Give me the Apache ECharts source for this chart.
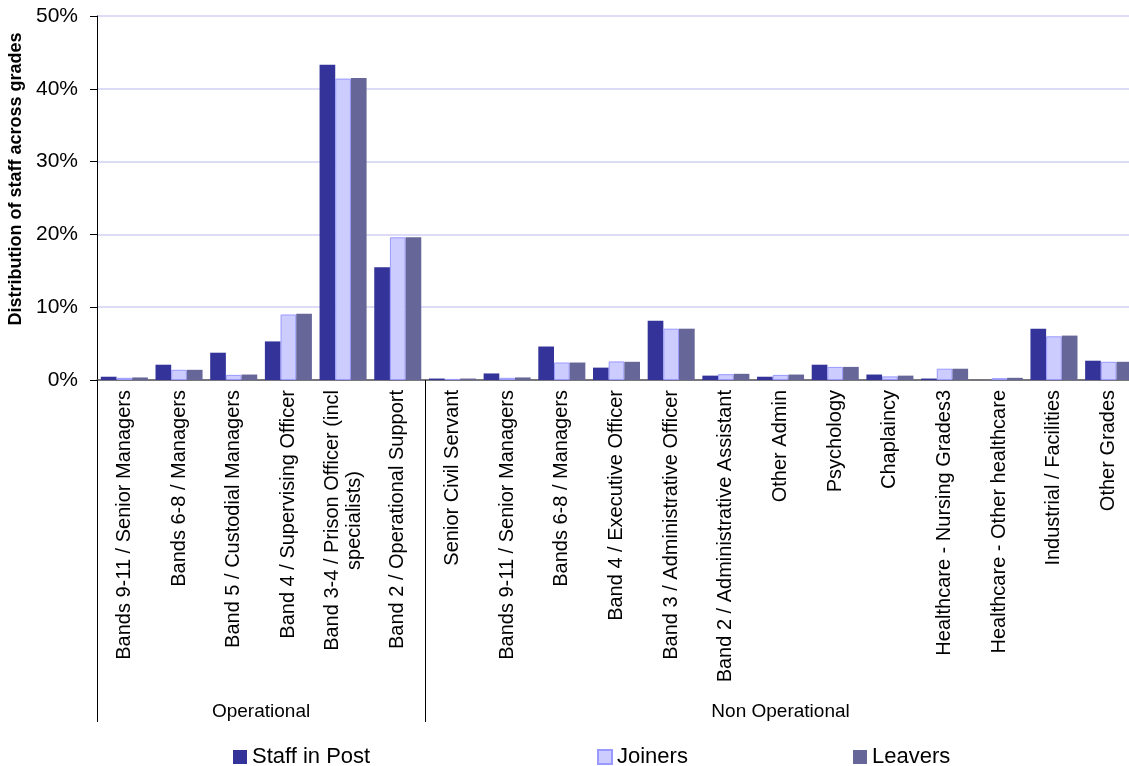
<!DOCTYPE html>
<html>
<head>
<meta charset="utf-8">
<script src="https://cdn.jsdelivr.net/npm/echarts@6/dist/echarts.min.js"></script>
<style>
  html, body { margin: 0; padding: 0; background: #fff; }
  #chart { width: 1129px; height: 766px; }
</style>
</head>
<body>
<div id="chart"></div>
<script>
// Grade categories, in axis order
const categories = [
  'Bands 9-11 / Senior Managers',
  'Bands 6-8 / Managers',
  'Band 5 / Custodial Managers',
  'Band 4 / Supervising Officer',
  'Band 3-4 / Prison Officer (incl\nspecialists)',
  'Band 2 / Operational Support',
  'Senior Civil Servant',
  'Bands 9-11 / Senior Managers',
  'Bands 6-8 / Managers',
  'Band 4 / Executive Officer',
  'Band 3 / Administrative Officer',
  'Band 2 / Administrative Assistant',
  'Other Admin',
  'Psychology',
  'Chaplaincy',
  'Healthcare - Nursing Grades3',
  'Healthcare - Other healthcare',
  'Industrial / Facilities',
  'Other Grades'
];

// Grade groups and how many categories each spans
const groupNames = ['Operational', 'Non Operational'];
const groupSizes = [6, 13];

// Share of staff in each grade (%)
const staffInPost = [0.45, 2.1, 3.75, 5.3, 43.3, 15.5, 0.2, 0.9, 4.6, 1.7, 8.15, 0.6, 0.45, 2.1, 0.75, 0.2, 0, 7.05, 2.65];
const joiners     = [0.3, 1.4, 0.7, 9.0, 41.4, 19.6, 0.15, 0.3, 2.4, 2.55, 7.05, 0.8, 0.7, 1.8, 0.5, 1.55, 0.25, 6.0, 2.5];
const leavers     = [0.35, 1.4, 0.75, 9.1, 41.5, 19.6, 0.2, 0.35, 2.4, 2.5, 7.05, 0.85, 0.75, 1.8, 0.6, 1.55, 0.3, 6.1, 2.5];

// Value-axis ticks
const yTicks = [0, 10, 20, 30, 40, 50];

// Group boundaries and centres on a 0..N scale
const boundaries = [0];
groupSizes.forEach(s => boundaries.push(boundaries[boundaries.length - 1] + s));
const centres = groupSizes.map((s, i) => boundaries[i] + s / 2);

const FONT = '"Liberation Sans", Arial, sans-serif';
const chart = echarts.init(document.getElementById('chart'));

const groupAxisOffset = 342;

chart.setOption({
  animation: false,
  textStyle: { fontFamily: FONT, color: '#000' },
  grid: { left: 97, top: 16, width: 1039, bottom: 386, containLabel: false, outerBoundsMode: 'none' },
  legend: [
    { data: ['Staff in Post'], left: 233, top: 746 },
    { data: ['Joiners'], left: 597, top: 746 },
    { data: ['Leavers'], left: 853, top: 746 }
  ].map(l => Object.assign(l, {
    padding: 0,
    icon: 'rect', itemWidth: 14, itemHeight: 14, itemGap: 0,
    textStyle: { fontSize: 22, color: '#000', fontFamily: FONT }
  })),
  xAxis: [
    {
      type: 'category',
      data: categories,
      axisLine: { show: true, lineStyle: { color: '#555', width: 1.5 } },
      axisTick: { show: false },
      axisLabel: {
        interval: 0,
        rotate: 90,
        margin: 10,
        fontSize: 20,
        color: '#000',
        fontFamily: FONT,
        formatter: v => v.split('\n').map(s => '{c|' + s + '}').join('\n'),
        rich: { c: { align: 'center', fontSize: 20, fontFamily: FONT, color: '#000', lineHeight: 22 } }
      },
      splitLine: { show: false }
    },
    {
      // Group row beneath the grade labels: separators and group names
      type: 'value',
      gridIndex: 0,
      position: 'bottom',
      offset: groupAxisOffset,
      min: 0,
      max: categories.length,
      axisLine: { show: false },
      axisTick: {
        show: true, inside: true, length: groupAxisOffset,
        customValues: boundaries,
        lineStyle: { color: '#000', width: 1 }
      },
      axisLabel: {
        inside: true, margin: 1,
        customValues: centres,
        fontSize: 19, color: '#000', fontFamily: FONT,
        formatter: v => groupNames[centres.indexOf(v)] || ''
      },
      splitLine: { show: false }
    }
  ],
  yAxis: {
    type: 'value',
    min: yTicks[0],
    max: yTicks[yTicks.length - 1],
    interval: yTicks[1] - yTicks[0],
    name: 'Distribution of staff across grades',
    nameLocation: 'middle',
    nameRotate: 90,
    nameGap: 70,
    nameTextStyle: { fontSize: 18, fontWeight: 'bold', color: '#000', fontFamily: FONT, padding: [0, 0, 0, 38] },
    axisLine: { show: true, lineStyle: { color: '#000', width: 1 } },
    axisTick: { show: true, inside: false, length: 7, lineStyle: { color: '#000' } },
    axisLabel: { fontSize: 21, margin: 19, color: '#000', fontFamily: FONT, formatter: '{value}%' },
    splitLine: { show: true, lineStyle: { color: '#DCDCF6', width: 2 } }
  },
  series: [
    {
      name: 'Staff in Post', type: 'bar', data: staffInPost,
      barGap: '0%', barCategoryGap: '14%',
      itemStyle: { color: '#333399' }
    },
    {
      name: 'Joiners', type: 'bar', data: joiners,
      barGap: '0%', barCategoryGap: '14%',
      itemStyle: { color: '#CCCCFF', borderColor: '#9999FF', borderWidth: 1 }
    },
    {
      name: 'Leavers', type: 'bar', data: leavers,
      barGap: '0%', barCategoryGap: '14%',
      itemStyle: { color: '#666699' }
    }
  ]
});
</script>
</body>
</html>
